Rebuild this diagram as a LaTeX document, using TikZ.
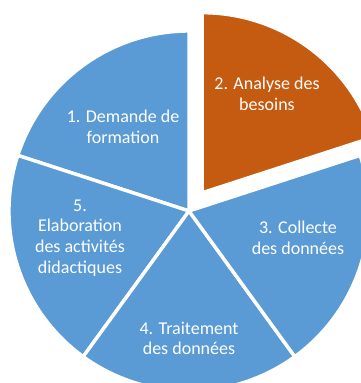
\documentclass[tikz,border=0pt]{standalone}
\usepackage{fontspec}
\setmainfont{Carlito}
\usetikzlibrary{calc}
\definecolor{pieblue}{HTML}{5B9BD5}
\definecolor{pieorange}{HTML}{C55A11}
\tikzset{
  slicestyle/.style={draw=white, line width=3.4pt, line join=miter},
  label/.style={text=white, align=center, font=\fontsize{18}{20.7}\selectfont, inner sep=0pt}
}
\begin{document}
\begin{tikzpicture}[x=1pt,y=1pt]
\useasboundingbox (0,0) rectangle (361,-383);
\begin{scope}
\clip (0,0) rectangle (361,-383);
\coordinate (C) at (189,-211);
\coordinate (C2) at ($(C)+(54:22.6pt)$);
% slice 1
\fill[pieblue] (C) -- ++(90:180pt) arc[start angle=90,end angle=162,radius=180pt] -- cycle;
\draw[slicestyle] (C) -- ++(90:180pt) arc[start angle=90,end angle=162,radius=180pt] -- cycle;
% slice 5
\fill[pieblue] (C) -- ++(162:180pt) arc[start angle=162,end angle=234,radius=180pt] -- cycle;
\draw[slicestyle] (C) -- ++(162:180pt) arc[start angle=162,end angle=234,radius=180pt] -- cycle;
% slice 4
\fill[pieblue] (C) -- ++(234:180pt) arc[start angle=234,end angle=306,radius=180pt] -- cycle;
\draw[slicestyle] (C) -- ++(234:180pt) arc[start angle=234,end angle=306,radius=180pt] -- cycle;
% slice 3
\fill[pieblue] (C) -- ++(306:180pt) arc[start angle=306,end angle=378,radius=180pt] -- cycle;
\draw[slicestyle] (C) -- ++(306:180pt) arc[start angle=306,end angle=378,radius=180pt] -- cycle;
% slice 2 (exploded)
\fill[pieorange] (C2) -- ++(18:180pt) arc[start angle=18,end angle=90,radius=180pt] -- cycle;
\draw[slicestyle] (C2) -- ++(18:180pt) arc[start angle=18,end angle=90,radius=180pt] -- cycle;
\end{scope}
\node[label] (t1) at (123,-127) {1. Demande de\\formation};
\node[label] (t2) at (267,-93.5) {2. Analyse des\\besoins};
\node[label] (t3) at (298,-238) {3. Collecte\\des données};
\node[label] (t4) at (189,-338.5) {4. Traitement\\des données};
\node[label] (t5) at (80,-238) {5.\\Elaboration\\des activités\\didactiques};
\end{tikzpicture}
\end{document}
